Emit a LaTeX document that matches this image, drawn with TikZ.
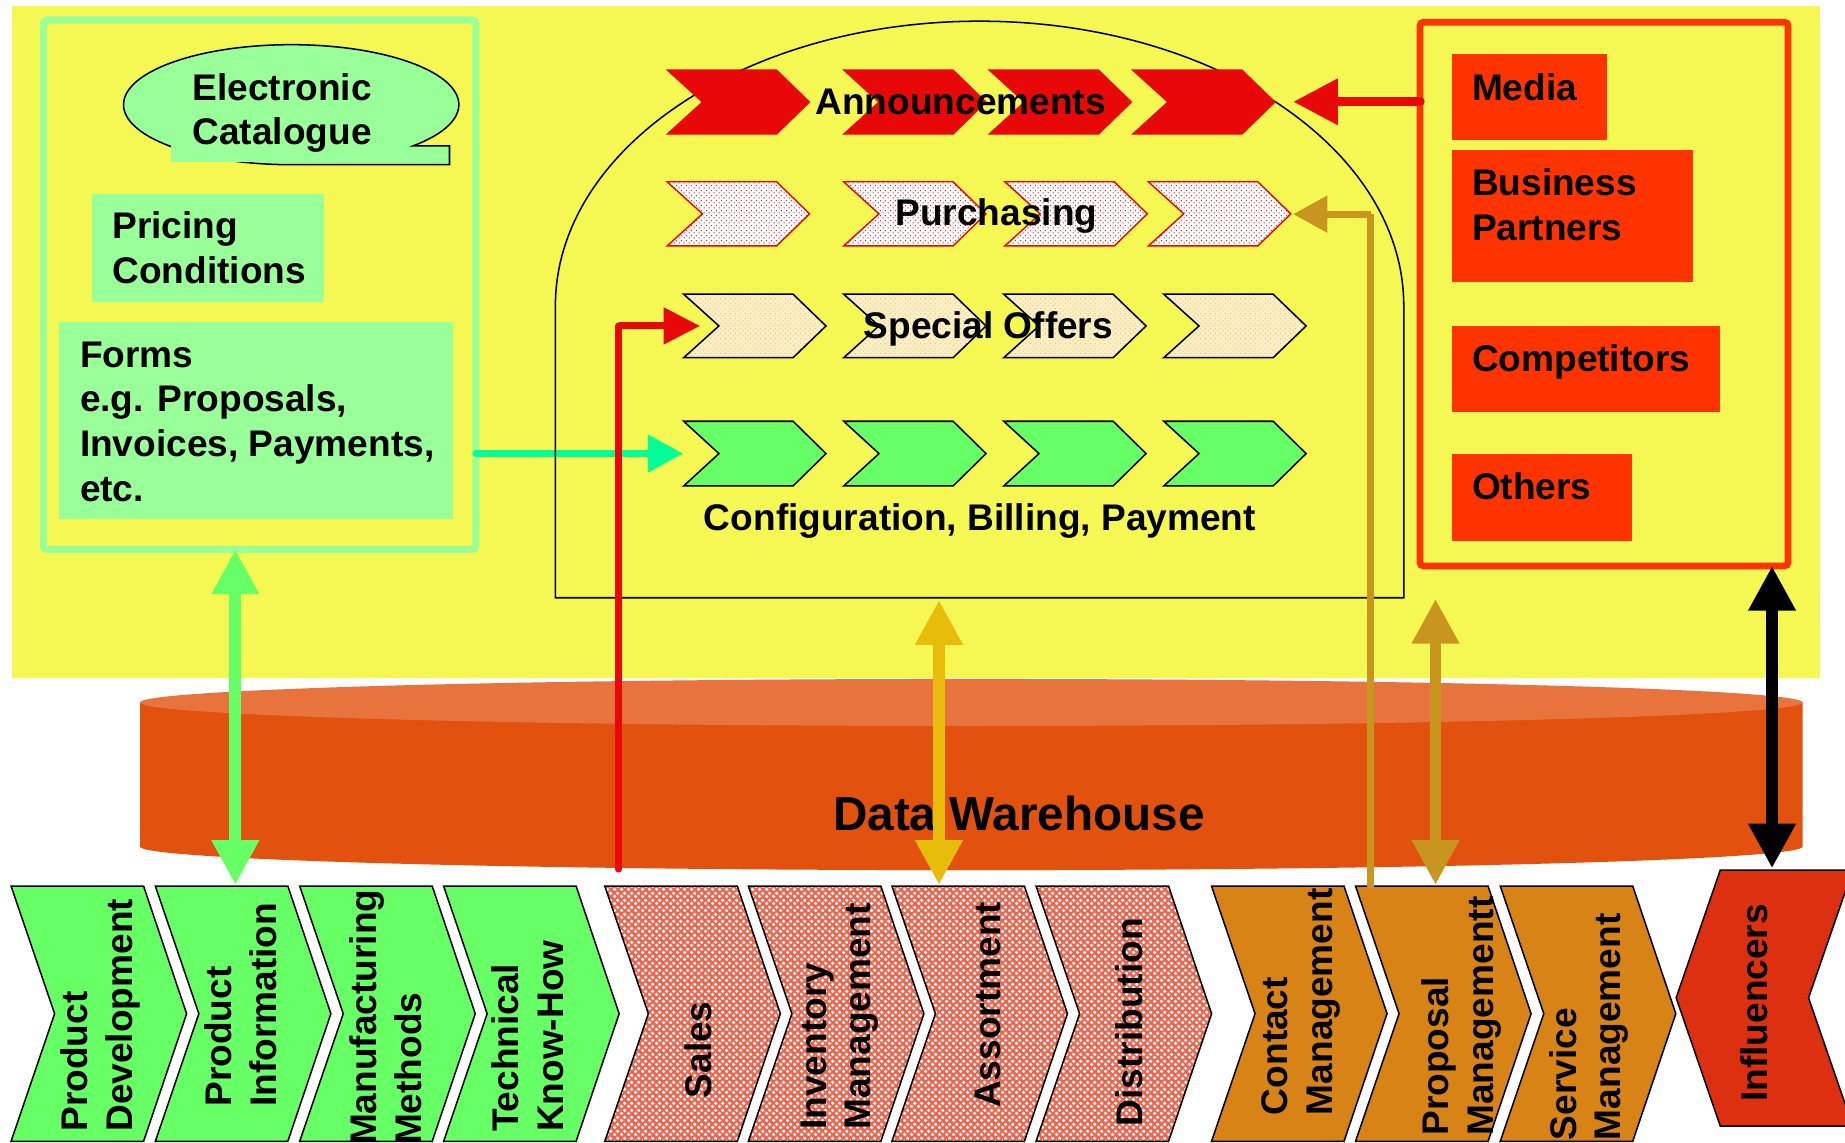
\documentclass[tikz,border=0pt]{standalone}
\usepackage{fontspec}
\setmainfont{Liberation Sans}
\usetikzlibrary{arrows.meta,patterns}

\definecolor{bgyellow}{RGB}{245,247,82}
\definecolor{lightgreen}{RGB}{153,255,153}
\definecolor{brightgreen}{RGB}{102,255,102}
\definecolor{springgreen}{RGB}{0,255,153}
\definecolor{annred}{RGB}{232,8,8}
\definecolor{flame}{RGB}{255,51,0}
\definecolor{cylside}{RGB}{226,82,14}
\definecolor{cyltop}{RGB}{232,115,60}
\definecolor{goldA}{RGB}{232,188,10}
\definecolor{goldB}{RGB}{200,150,30}
\definecolor{orangebox}{RGB}{216,131,21}
\definecolor{influred}{RGB}{221,48,16}
\definecolor{salmon}{RGB}{238,100,76}
\definecolor{beige}{RGB}{250,240,200}
\definecolor{dotorange}{RGB}{242,196,100}

% small staggered dots
\pgfdeclarepatternformonly{finedots}{\pgfqpoint{0pt}{0pt}}{\pgfqpoint{4pt}{4pt}}{\pgfqpoint{4pt}{4pt}}{%
  \pgfpathcircle{\pgfqpoint{1pt}{1pt}}{0.6pt}%
  \pgfpathcircle{\pgfqpoint{3pt}{3pt}}{0.6pt}%
  \pgfusepath{fill}}
% larger staggered dots for the lattice fill
\pgfdeclarepatternformonly{lattice}{\pgfqpoint{0pt}{0pt}}{\pgfqpoint{5.6pt}{5.6pt}}{\pgfqpoint{5.6pt}{5.6pt}}{%
  \pgfpathcircle{\pgfqpoint{1.4pt}{1.4pt}}{1.6pt}%
  \pgfpathcircle{\pgfqpoint{4.2pt}{4.2pt}}{1.6pt}%
  \pgfusepath{fill}}

% stacked lines of text, baseline of the first line as reference
\newcommand\lines[1]{\begin{tabular}[t]{@{}l@{}}#1\end{tabular}}

% right-pointing chevron: style, left x, top y, bottom y, flat length, tip depth, notch depth
\newcommand\chev[7]{%
  \pgfmathsetmacro\chvM{(#3+#4)/2}%
  \pgfmathsetmacro\chvR{#2+#5}%
  \pgfmathsetmacro\chvT{#2+#5+#6}%
  \pgfmathsetmacro\chvN{#2+#7}%
  \path[#1] (#2,#3) -- (\chvR,#3) -- (\chvT,\chvM) -- (\chvR,#4) -- (#2,#4) -- (\chvN,\chvM) -- cycle;}
\newcommand\smallchev[4]{\chev{#1}{#2}{#3}{#4}{93}{28}{30}}
\newcommand\bigchev[2]{\chev{#1}{#2}{753}{970}{112.6}{36.6}{37}}

\begin{document}
\begin{tikzpicture}[x=1pt,y=-1pt,
  lbl/.style={font=\fontsize{31.5}{38}\selectfont\bfseries, inner sep=0pt, outer sep=0pt},
  vlbl/.style={lbl, rotate=90, anchor=base west},
  box/.style={inner sep=0pt, outer sep=0pt, anchor=north west, draw=none},
  panel/.style={box, line width=6pt, rounded corners=3pt},
  flamebox/.style={box, fill=flame},
  greenbox/.style={box, fill=lightgreen},
  annchev/.style={fill=annred, draw=annred, line width=1pt},
  purchchev/.style={preaction={fill=white}, pattern=finedots, pattern color=annred, draw=annred, line width=1.2pt},
  offerchev/.style={preaction={fill=beige}, pattern=finedots, pattern color=dotorange, draw=black, line width=1.3pt},
  cfgchev/.style={fill=brightgreen, draw=black, line width=1.3pt},
  devchev/.style={fill=brightgreen, draw=black, line width=1.3pt},
  saleschev/.style={preaction={fill=salmon}, pattern=lattice, pattern color=white, draw=black, line width=1.3pt},
  servchev/.style={fill=orangebox, draw=black, line width=1.3pt},
  dbl/.style={line width=10pt, {Triangle[length=38pt,width=38pt]}-{Triangle[length=38pt,width=38pt]}}
]
\useasboundingbox (0,0) rectangle (1568,971);
\fill[white] (0,0) rectangle (1568,971);
\fill[bgyellow] (10,5) rectangle (1547,576);

% data warehouse cylinder
\fill[cylside] (119,597) -- (119,719.5) arc[start angle=180,end angle=0,x radius=706.5,y radius=20] -- (1532,597) -- cycle;
\fill[cyltop] (825.5,597) ellipse[x radius=706.5,y radius=20];
\node[font=\fontsize{40.5}{48}\selectfont\bfseries, inner sep=0pt, anchor=base] (dwh) at (866,706) {Data Warehouse};

% left panel
\node[panel, draw=lightgreen, minimum width=367.5pt, minimum height=450pt] (catpanel) at (37,17) {};
\path[draw=black, line width=1.3pt, fill=lightgreen] (351,124) arc[start angle=43.4,end angle=-270,x radius=142.5,y radius=51] -- (382,140) -- (382,124) -- cycle;
\node[greenbox, minimum width=195pt, minimum height=84pt] (catbox) at (145,54) {};
\node[lbl, anchor=base west] (cattext) at (163.7,85) {\lines{Electronic\\Catalogue}};
\node[greenbox, minimum width=197pt, minimum height=92pt] (pricing) at (78,165) {};
\node[lbl, anchor=base west] (pricingtext) at (95.5,202.7) {\lines{Pricing\\Conditions}};
\node[greenbox, minimum width=335pt, minimum height=167pt] (forms) at (50,274) {};
\node[lbl, anchor=base west] (formstext) at (68,312) {\lines{Forms\\e.g. Proposals,\\Invoices, Payments,\\etc.}};

% right panel
\node[panel, draw=flame, line width=5.7pt, minimum width=312.8pt, minimum height=462.1pt] (infpanel) at (1206.8,18.9) {};
\node[flamebox, minimum width=131.6pt, minimum height=73.4pt] (media) at (1234,46) {};
\node[lbl, anchor=base west] (mediatext) at (1251,85.2) {Media};
\node[flamebox, minimum width=204.5pt, minimum height=111.9pt] (partners) at (1234,127.5) {};
\node[lbl, anchor=base west] (partnerstext) at (1251,166.5) {\lines{Business\\Partners}};
\node[flamebox, minimum width=228pt, minimum height=73pt] (competitors) at (1234,277) {};
\node[lbl, anchor=base west] (competitorstext) at (1251,315.5) {Competitors};
\node[flamebox, minimum width=152.7pt, minimum height=73.6pt] (others) at (1234,386) {};
\node[lbl, anchor=base west] (otherstext) at (1251,424.4) {Others};

% connector end points
\coordinate (cfgin) at (580.5,385.5);
\coordinate (offerin) at (595,277);
\coordinate (purchin) at (1099,182);
\coordinate (annin) at (1099,86.5);
\coordinate (salesout) at (526,738.6);
\coordinate (pinfotop) at (200,752);
\coordinate (assorttop) at (798,752);
\coordinate (archbase) at (798,510);
\coordinate (proptop) at (1220,752);
\coordinate (propin) at (1165,755);
\coordinate (archside) at (1220,509);
\coordinate (influtop) at (1506,738);

% forms feed the configuration row
\draw[springgreen, line width=6pt, line cap=round, -{Triangle[length=30pt,width=31pt]}] (catpanel.east |- cfgin) -- (cfgin);

% portal outline
\draw[black, line width=1.3pt] (472,508) -- (472,260) arc[start angle=180,end angle=360,x radius=360.5,y radius=242] -- (1193,508) -- cycle;

% announcement row
\smallchev{annchev}{567}{59.5}{114}
\smallchev{annchev}{717}{59.5}{114}
\smallchev{annchev}{840.6}{59.5}{114}
\smallchev{annchev}{962.5}{59.5}{114}
\node[lbl, anchor=base] (ann) at (816.5,97.6) {Announcements};
% purchasing row
\smallchev{purchchev}{567}{154.5}{209}
\smallchev{purchchev}{717}{154.5}{209}
\smallchev{purchchev}{854}{154.5}{209}
\smallchev{purchchev}{976}{154.5}{209}
\node[lbl, anchor=base] (purch) at (846.8,191.9) {Purchasing};
% special offers row
\smallchev{offerchev}{581}{250}{304}
\smallchev{offerchev}{717}{250}{304}
\smallchev{offerchev}{853}{250}{304}
\smallchev{offerchev}{989}{250}{304}
\node[lbl, anchor=base] (offers) at (840,287.8) {Special Offers};
% configuration row
\smallchev{cfgchev}{581}{358}{413}
\smallchev{cfgchev}{717}{358}{413}
\smallchev{cfgchev}{853}{358}{413}
\smallchev{cfgchev}{989}{358}{413}
\node[lbl, anchor=base] (cfg) at (832.8,451) {Configuration, Billing, Payment};

% process chain
\bigchev{devchev}{9.4}
\bigchev{devchev}{132}
\bigchev{devchev}{254.7}
\bigchev{devchev}{377}
\bigchev{saleschev}{514}
\bigchev{saleschev}{636}
\bigchev{saleschev}{758}
\bigchev{saleschev}{880.5}
\bigchev{servchev}{1029.6}
\bigchev{servchev}{1152}
\bigchev{servchev}{1275}
\path[fill=influred, draw=black, line width=1.3pt] (1462,739.4) -- (1574.6,739.4) -- (1537,848) -- (1574.6,957) -- (1462,957) -- (1424.5,848) -- cycle;

\node[vlbl] (pdev) at (74.5,961.7) {\lines{Product\\Development}};
\node[vlbl] (pinfo) at (197,940.5) {\lines{Product\\Information}};
\node[vlbl] (manuf) at (320,973) {\lines{Manufacturing\\Methods}};
\node[vlbl] (tech) at (440.5,962) {\lines{Technical\\Know-How}};
\node[vlbl] (sales) at (604.5,933.4) {Sales};
\node[vlbl] (inv) at (702,960) {\lines{Inventory\\Management}};
\node[vlbl] (assort) at (850,941.5) {Assortment};
\node[vlbl] (distr) at (971,957) {Distribution};
\node[vlbl] (contact) at (1094.5,947.6) {\lines{Contact\\Management}};
\node[vlbl] (proposal) at (1231,965) {\lines{Proposal\\Managementt}};
\node[vlbl] (service) at (1339.5,968.9) {\lines{Service\\Management}};
\node[vlbl] (influ) at (1502,936.3) {Influencers};

% connectors
\draw[annred, line width=6pt, line cap=round] (salesout) -- (salesout |- offerin);
\draw[annred, line width=6pt, -{Triangle[length=31pt,width=30pt]}] (salesout |- offerin) -- (offerin);
\draw[goldB, line width=6pt] (propin) -- (propin |- purchin);
\draw[goldB, line width=6pt, -{Triangle[length=29pt,width=30pt]}] (propin |- purchin) -- (purchin);
\draw[annred, line width=8pt, line cap=round, -{Triangle[length=38pt,width=37.5pt]}] (infpanel.west |- annin) -- (annin);
\draw[brightgreen, dbl] (catpanel.south -| pinfotop) -- (pinfotop);
\draw[goldA, dbl] (archbase) -- (assorttop);
\draw[goldB, dbl] (archside) -- (proptop);
\draw[black, dbl] (infpanel.south -| influtop) -- (influtop);
\end{tikzpicture}
\end{document}
